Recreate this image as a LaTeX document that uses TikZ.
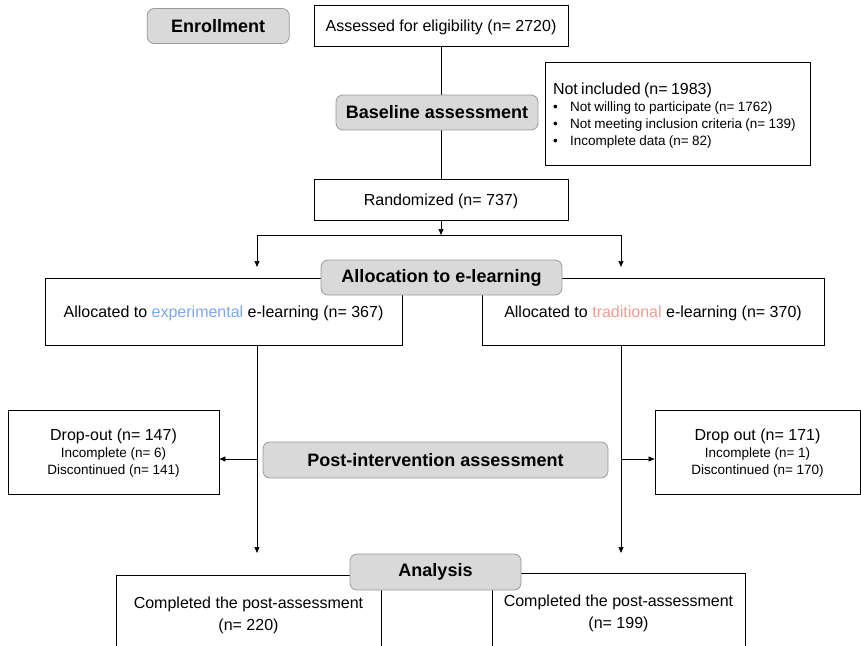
\documentclass[tikz,border=0pt]{standalone}
\usepackage{fontspec}
\setmainfont{Liberation Sans}
\usetikzlibrary{positioning,arrows.meta}

\definecolor{expblue}{HTML}{7BA7F0}
\definecolor{tradred}{HTML}{F29A92}
\definecolor{stagefill}{HTML}{D9D9D9}
\definecolor{stageline}{HTML}{9A9A9A}

\tikzset{
  box/.style={draw, line width=0.8pt, align=center, inner sep=2pt, text depth=0pt,
    font=\fontsize{16}{22}\selectfont},
  stage/.style={draw=stageline, fill=stagefill, rounded corners=7pt,
    line width=0.8pt, minimum height=35pt, inner sep=0pt,
    font=\bfseries\fontsize{18}{20}\selectfont},
  arrow/.style={-{Triangle[length=6pt,width=5pt]}, line width=0.7pt},
  link/.style={line width=0.7pt}
}

\begin{document}
\begin{tikzpicture}[x=1pt,y=-1pt]
  \useasboundingbox (0,0) rectangle (861,645);

  % enrollment
  \node[box, minimum width=254pt, minimum height=41pt] (assess) at (441,25.5)
    {Assessed for eligibility (n= 2720)};
  \node[stage, minimum width=142pt, left=24pt of assess, yshift=-0.5pt] (enroll) {Enrollment};
  \node[box, minimum width=254pt, minimum height=41pt] (random) at (441,199.5)
    {Randomized (n= 737)};
  \node[draw, line width=0.8pt, inner sep=2pt, minimum width=265pt, minimum height=103pt,
    text width=249pt, align=left] (notinc) at (677.5,113.5)
    {\raisebox{-3pt}[\height][\depth]{\fontsize{13.5}{17}\selectfont
     \begin{tabular}{@{}l@{}}
       {\fontsize{16}{17}\selectfont Not included (n= 1983)}\\
       \makebox[17pt][l]{\textbullet}Not willing to participate (n= 1762)\\
       \makebox[17pt][l]{\textbullet}Not meeting inclusion criteria (n= 139)\\
       \makebox[17pt][l]{\textbullet}Incomplete data (n= 82)
     \end{tabular}}};

  \draw[link] (assess) -- (random);
  \node[stage, minimum width=202pt] (baseline) at (437,112.5) {Baseline assessment};

  % allocation
  \coordinate (split) at (441,235);
  \coordinate (leftin) at (257,267);
  \coordinate (rightin) at (621,267);
  \draw[arrow] (random) -- (split);
  \draw[arrow] (split) -| (leftin);
  \draw[arrow] (split) -| (rightin);

  \node[box, minimum width=357pt, minimum height=67pt] (expalloc) at (223.5,311.5)
    {Allocated to \textcolor{expblue}{experimental} e-learning (n= 367)};
  \node[box, minimum width=342pt, minimum height=67pt] (tradalloc) at (653,311.5)
    {Allocated to \textcolor{tradred}{traditional} e-learning (n= 370)};
  \node[stage, minimum width=241pt] (alloc) at (441.5,277.5) {Allocation to e-learning};

  % post-intervention
  \coordinate (leftout) at (257,553);
  \coordinate (rightout) at (621,553);
  \draw[arrow] (expalloc.south -| leftout) -- (leftout);
  \draw[arrow] (tradalloc.south -| rightout) -- (rightout);

  \node[box, minimum width=211pt, minimum height=84pt] (expdrop) at (113.5,452)
    {Drop-out (n= 147)\\[-5pt]
     {\fontsize{13.5}{16}\selectfont Incomplete (n= 6)}\\[-5pt]
     {\fontsize{13.5}{16}\selectfont Discontinued (n= 141)}};
  \node[box, minimum width=205pt, minimum height=84pt] (tradrop) at (757.5,452)
    {Drop out (n= 171)\\[-5pt]
     {\fontsize{13.5}{16}\selectfont Incomplete (n= 1)}\\[-5pt]
     {\fontsize{13.5}{16}\selectfont Discontinued (n= 170)}};
  \draw[arrow] ([yshift=-7pt]expdrop.east -| leftout) -- ([yshift=-7pt]expdrop.east);
  \draw[arrow] ([yshift=-7pt]tradrop.west -| rightout) -- ([yshift=-7pt]tradrop.west);
  \node[stage, minimum width=345pt, minimum height=36pt] (post) at (435.5,460)
    {Post-intervention assessment};

  % analysis
  \node[box, minimum width=265pt, minimum height=78pt] (expdone) at (248.5,614)
    {Completed the post-assessment\\(n= 220)};
  \node[box, minimum width=253pt, minimum height=78pt] (tradone) at (618.5,612)
    {Completed the post-assessment\\(n= 199)};
  \node[stage, minimum width=171pt, minimum height=36pt] (analysis) at (435.5,572) {Analysis};
\end{tikzpicture}
\end{document}
